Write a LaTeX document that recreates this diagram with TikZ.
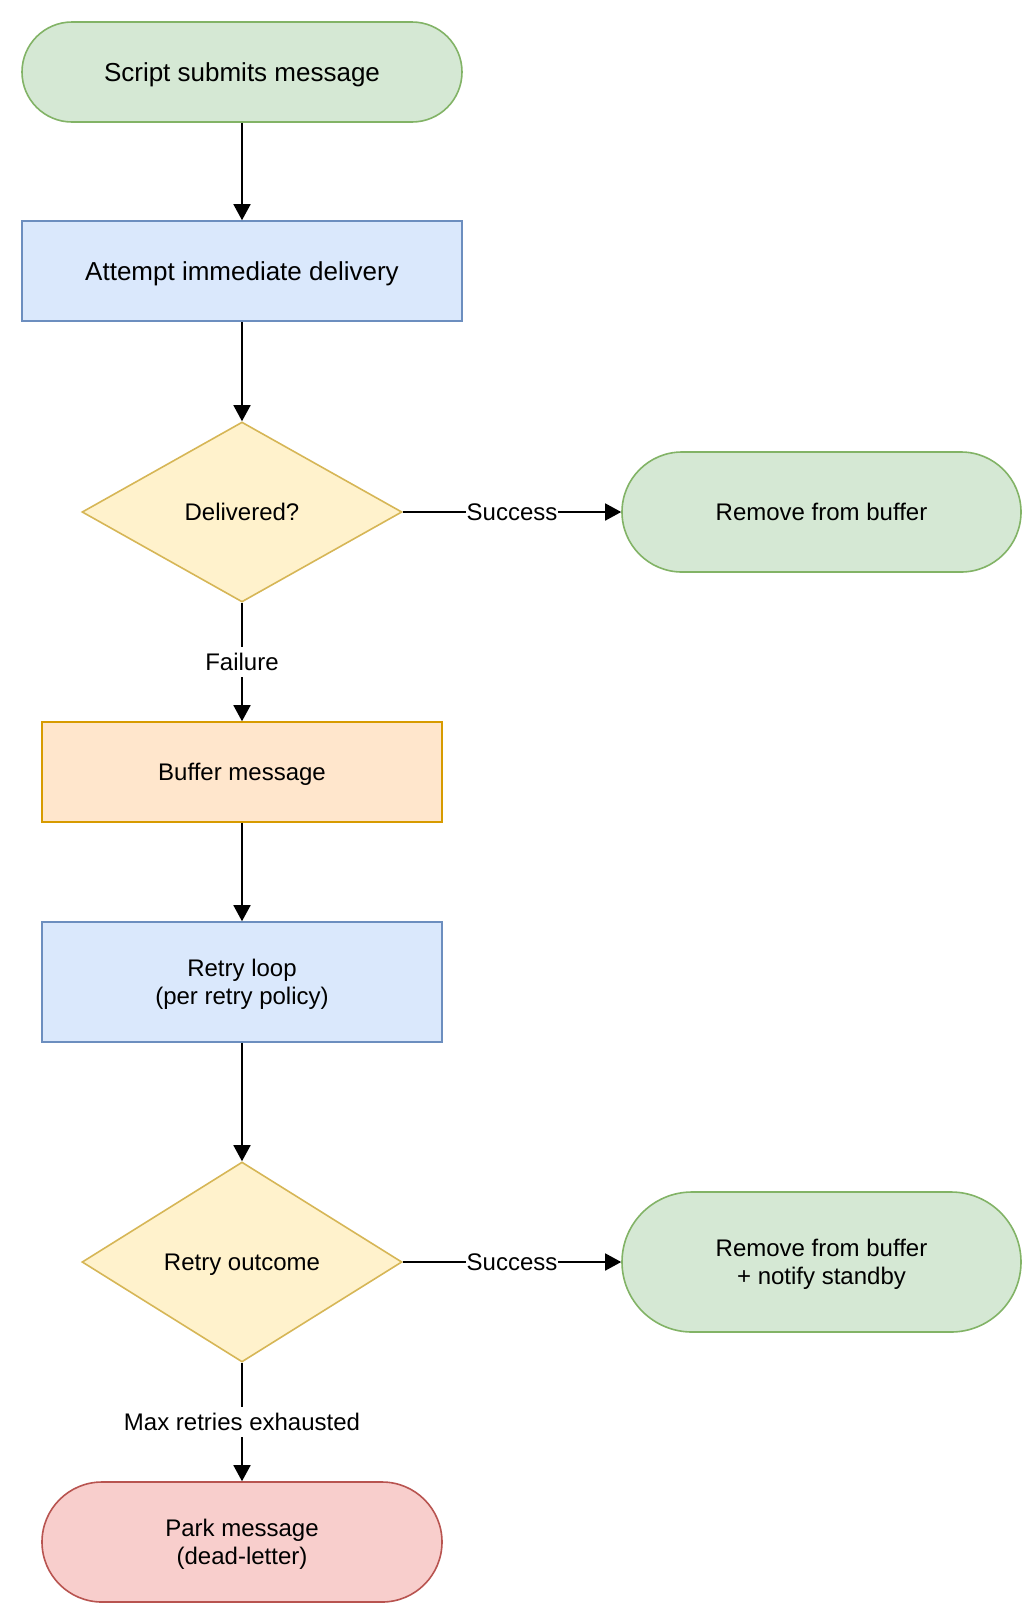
\documentclass[tikz,border=0pt]{standalone}
\usepackage{fontspec}
\setmainfont{Liberation Sans}
\usetikzlibrary{shapes.geometric,arrows.meta}
\definecolor{gfill}{HTML}{D5E8D4}\definecolor{gdraw}{HTML}{82B366}
\definecolor{bfill}{HTML}{DAE8FC}\definecolor{bdraw}{HTML}{6C8EBF}
\definecolor{yfill}{HTML}{FFF2CC}\definecolor{ydraw}{HTML}{D6B656}
\definecolor{ofill}{HTML}{FFE6CC}\definecolor{odraw}{HTML}{D79B00}
\definecolor{rfill}{HTML}{F8CECC}\definecolor{rdraw}{HTML}{B85450}
\begin{document}
\begin{tikzpicture}[x=1pt,y=-1pt,
  base/.style={inner sep=0pt, align=center, line width=1.6pt, font=\fontsize{24}{28.8}\selectfont},
  bigtext/.style={font=\fontsize{26}{31.2}\selectfont},
  oneline/.style={text height=22.8pt, text depth=6pt},
  bigline/.style={text height=24.7pt, text depth=6.5pt},
  twoline/.style={text height=51.6pt, text depth=6pt},
  pill/.style={base, rectangle, rounded corners=#1},
  gpill/.style={pill=#1, fill=gfill, draw=gdraw},
  rpill/.style={pill=#1, fill=rfill, draw=rdraw},
  bbox/.style={base, rectangle, fill=bfill, draw=bdraw},
  obox/.style={base, rectangle, fill=ofill, draw=odraw},
  decision/.style={base, diamond, fill=yfill, draw=ydraw},
  flow/.style={line width=1.6pt, -{Triangle[length=16pt,width=17pt]}},
  elabel/.style={fill=white, inner sep=1pt, font=\fontsize{24}{28.8}\selectfont, oneline}]
\useasboundingbox (0,0) rectangle (1035,1615);

\node[gpill=50pt, bigtext, bigline, minimum width=440pt, minimum height=100pt] (start) at (242,72) {Script submits message};
\node[bbox, bigtext, bigline, minimum width=440pt, minimum height=100pt] (attempt) at (242,271) {Attempt immediate delivery};
\node[decision, oneline, minimum width=320pt, minimum height=180pt] (delivered) at (242,512) {Delivered?};
\node[gpill=60pt, oneline, minimum width=399pt, minimum height=120pt] (remove1) at (821.5,512) {Remove from buffer};
\node[obox, oneline, minimum width=400pt, minimum height=100pt] (buffer) at (242,772) {Buffer message};
\node[bbox, twoline, minimum width=400pt, minimum height=120pt] (retry) at (242,982) {Retry loop\\(per retry policy)};
\node[decision, oneline, minimum width=320pt, minimum height=200pt] (outcome) at (242,1262) {Retry outcome};
\node[gpill=70pt, twoline, minimum width=399pt, minimum height=140pt] (remove2) at (821.5,1262) {Remove from buffer\\+ notify standby};
\node[rpill=60pt, twoline, minimum width=400pt, minimum height=120pt] (park) at (242,1542) {Park message\\(dead-letter)};

\draw[flow] (start) -- (attempt);
\draw[flow] (attempt) -- (delivered);
\draw[flow] (delivered) -- node[elabel] (lsucc1) {Success} (remove1);
\draw[flow] (delivered) -- node[elabel] (lfail) {Failure} (buffer);
\draw[flow] (buffer) -- (retry);
\draw[flow] (retry) -- (outcome);
\draw[flow] (outcome) -- node[elabel] (lsucc2) {Success} (remove2);
\draw[flow] (outcome) -- node[elabel] (lmax) {Max retries exhausted} (park);
\end{tikzpicture}
\end{document}
